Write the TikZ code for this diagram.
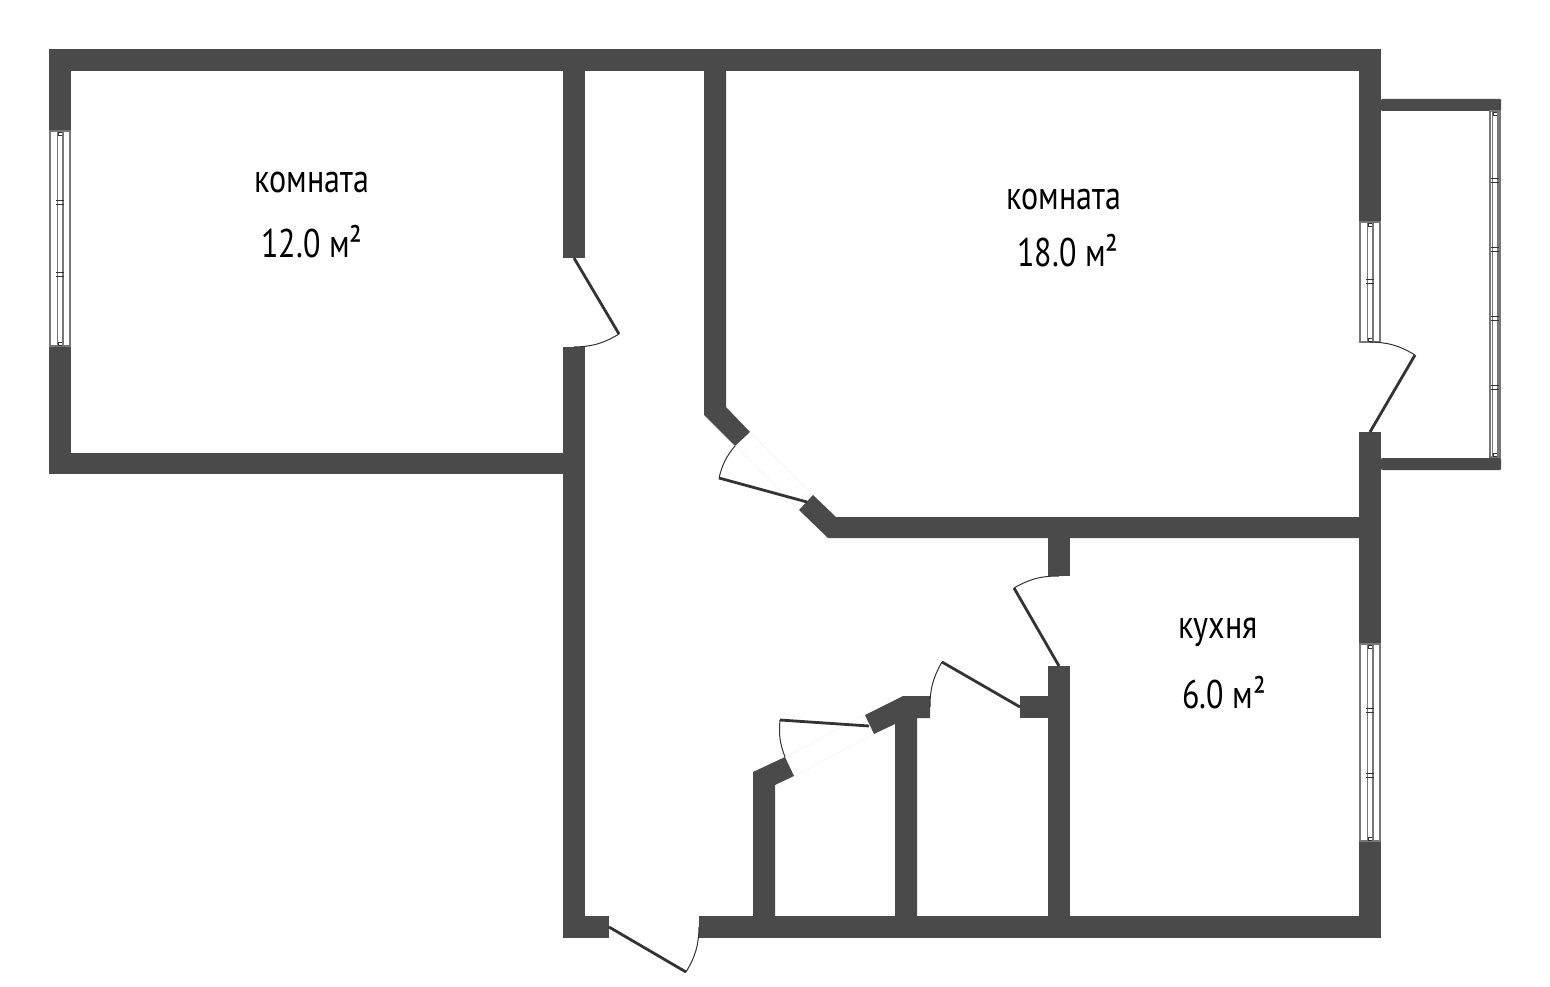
\documentclass[tikz,border=0pt]{standalone}
\usepackage{fontspec}
\setmainfont{PT Sans}
\usetikzlibrary{calc}

\definecolor{wallgray}{HTML}{4A4A4A}
\definecolor{leafgray}{HTML}{333333}
\definecolor{glassgray}{HTML}{777777}

\tikzset{
	wall/.style={fill=wallgray, draw=none},
	doorleaf/.style={draw=leafgray, line width=2.8pt},
	doorarc/.style={draw=leafgray, line width=1pt},
	doorfaint/.style={draw=black!7, line width=.8pt, densely dotted},
	winframe/.style={draw=glassgray, fill=white, line width=1.6pt},
	winglass/.style={draw=glassgray, line width=1.8pt},
	wintick/.style={draw=leafgray, line width=.8pt},
	roomlabel/.style={font=\fontsize{40}{42}\selectfont, text=black, inner sep=0pt, anchor=base, xscale=.8},
}

% window in a vertical wall: centre x, half width, top, bottom, list of tick positions
\newcommand{\vwindow}[5]{
	\draw[winframe] (#1-#2,#3) rectangle (#1+#2,#4);
	\draw[wintick] (#1-2,#3+1) rectangle (#1+2,#3+4);
	\draw[wintick] (#1-2,#4-4) rectangle (#1+2,#4-1);
	\draw[winglass] (#1-2.6,#3) -- (#1-2.6,#4);
	\draw[winglass] (#1+2.6,#3) -- (#1+2.6,#4);
	\foreach \t in {#5} {
		\draw[wintick] (#1-4,\t-2) -- (#1+4,\t-2);
		\draw[wintick] (#1-4,\t+2) -- (#1+4,\t+2);
	}
}

\begin{document}
\begin{tikzpicture}[x=1pt,y=-1pt]

	\useasboundingbox[fill=white] (0,0) rectangle (1550,987);

	% Outer walls and the left room
	\fill[wall] (49,49) rectangle (1381,71);
	\fill[wall] (49,49) rectangle (71,131);
	\fill[wall] (49,347) rectangle (71,474);
	\fill[wall] (49,453) rectangle (585,474);
	\fill[wall] (563,49) rectangle (585,258);
	\fill[wall] (563,347) rectangle (585,938);
	\fill[wall] (563,916) rectangle (609,938);
	\fill[wall] (699,916) rectangle (1381,938);
	\fill[wall] (1359,49) rectangle (1381,222);
	\fill[wall] (1359,432) rectangle (1381,644);
	\fill[wall] (1359,841) rectangle (1381,938);

	% Balcony
	\fill[wall, rounded corners=1pt] (1381,99) rectangle (1501,111);
	\fill[wall, rounded corners=1pt] (1381,458) rectangle (1501,470);

	% Big room, with the cut corner
	\fill[wall] (704,71) -- (726,71) -- (726,407) -- (750,432) -- (735,446) -- (704,415) -- cycle;
	\fill[wall] (813,495) -- (836,517) -- (1360,517) -- (1360,538) -- (828,538) -- (799,510) -- cycle;

	% Kitchen wall
	\fill[wall] (1048,538) rectangle (1070,576);
	\fill[wall] (1048,666) rectangle (1070,916);
	\fill[wall] (1020,696) rectangle (1048,718);

	% Small rooms
	\fill[wall] (865,715) -- (903,696) -- (930,696) -- (930,718) -- (917,718) -- (917,916)
		-- (895,916) -- (895,724) -- (874,734) -- cycle;
	\fill[wall] (785,757) -- (794,776) -- (775,785) -- (775,916) -- (753,916) -- (753,772) -- cycle;

	% Windows
	\vwindow{60}{10}{131}{346}{202.5,274}
	\vwindow{1370}{10}{222}{342}{281.5}
	\vwindow{1370}{10}{644}{841}{710,775}
	\vwindow{1495}{5}{111}{457}{180,249,318,387}

	% Doors: hinge, leaf end, arc back to the wall
	\coordinate (D1h) at (574,258);
	\coordinate (D1e) at (619,334);
	\coordinate (D1a) at (574,347);
	\draw[doorleaf] (D1h) -- (D1e);
	\draw[doorarc] (D1e) to[bend left=15] (D1a);

	\coordinate (D2h) at (1370,432);
	\coordinate (D2e) at (1415,355);
	\coordinate (D2a) at (1370,342);
	\draw[doorleaf] (D2h) -- (D2e);
	\draw[doorarc] (D2e) to[bend right=15] (D2a);

	\coordinate (D3h) at (807,502);
	\coordinate (D3e) at (719,478);
	\coordinate (D3a) at (735,446);
	\draw[doorfaint] (750,432) -- (813,495);
	\draw[doorfaint] (735,446) -- (799,510);
	\draw[doorleaf] (D3h) -- (D3e);
	\draw[doorarc] (D3e) to[bend left=13] (D3a);

	\coordinate (D4h) at (1059,666);
	\coordinate (D4e) at (1014,588);
	\coordinate (D4a) at (1059,576);
	\draw[doorleaf] (D4h) -- (D4e);
	\draw[doorarc] (D4e) to[bend left=15] (D4a);

	\coordinate (D5h) at (1020,707);
	\coordinate (D5e) at (942,662);
	\coordinate (D5a) at (930,707);
	\draw[doorleaf] (D5h) -- (D5e);
	\draw[doorarc] (D5e) to[bend right=15] (D5a);

	\coordinate (D6h) at (869,726);
	\coordinate (D6e) at (780,720);
	\coordinate (D6a) at (785,757);
	\draw[doorfaint] (785,757) -- (865,715);
	\draw[doorfaint] (794,776) -- (874,734);
	\draw[doorleaf] (D6h) -- (D6e);
	\draw[doorarc] (D6e) to[bend right=13] (D6a);

	\coordinate (D7h) at (609,927);
	\coordinate (D7e) at (686,972);
	\coordinate (D7a) at (699,927);
	\draw[doorleaf] (D7h) -- (D7e);
	\draw[doorarc] (D7e) to[bend right=15] (D7a);

	% Labels
	\node[roomlabel] (room1) at (312,193) {комната};
	\node[roomlabel] (area1) at (312,258) {12.0 м²};
	\node[roomlabel] (room2) at (1064,210) {комната};
	\node[roomlabel] (area2) at (1068,266) {18.0 м²};
	\node[roomlabel] (kitchen) at (1218,638) {кухня};
	\node[roomlabel] (area3) at (1224,708) {6.0 м²};

\end{tikzpicture}
\end{document}
